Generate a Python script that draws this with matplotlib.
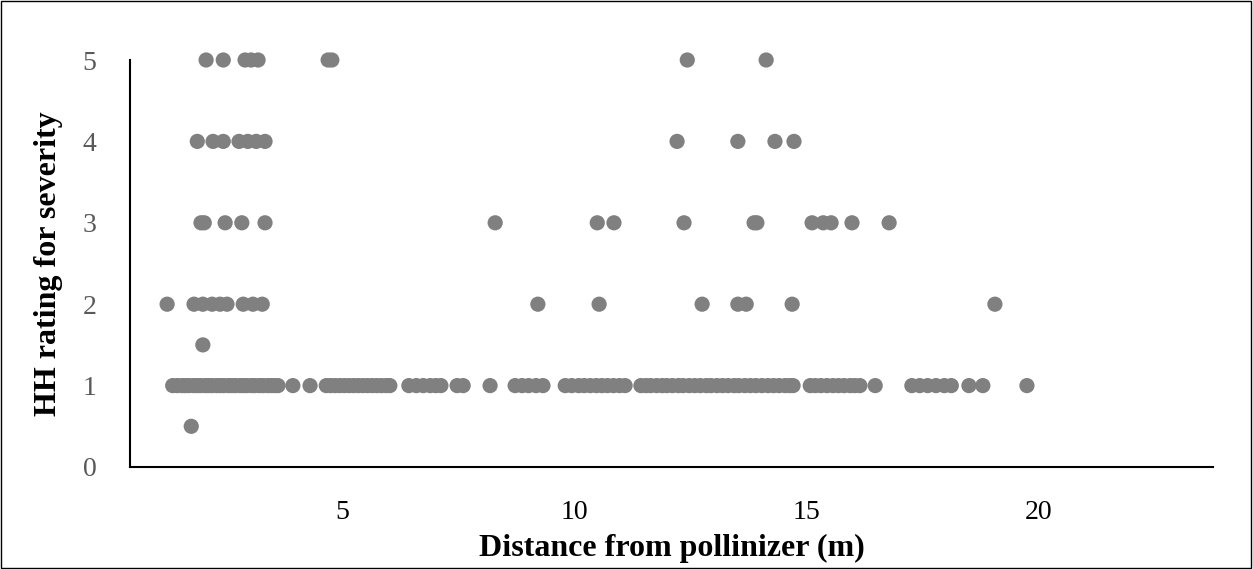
import matplotlib
matplotlib.use("Agg")
import matplotlib.pyplot as plt
from matplotlib.patches import Rectangle

# leituras do grafico: distancia (m) por nivel de severidade
dist_5 = [2.07, 2.44, 2.91, 3.04, 3.19, 4.70, 4.78, 12.44, 14.14]
dist_4 = [1.88, 2.22, 2.44, 2.78, 2.97, 3.15, 3.34, 12.22, 13.53, 14.33, 14.74]
dist_3 = [1.96, 2.03, 2.48, 2.84, 3.34, 8.30, 10.50, 10.86, 12.37, 13.88, 13.94,
          15.13, 15.37, 15.54, 15.99, 16.79]
dist_2 = [1.23, 1.81, 2.00, 2.20, 2.37, 2.52, 2.87, 3.08, 3.28, 9.22, 10.54,
          12.76, 13.53, 13.71, 14.70, 19.07]
dist_15 = [2.00]
dist_05 = [1.75]
dist_1 = [1.35, 1.45, 1.55, 1.62, 1.70, 1.80, 1.88, 1.95, 2.05, 2.12, 2.20, 2.30,
          2.38, 2.45, 2.55, 2.62, 2.70, 2.80, 2.88, 2.95, 3.05, 3.12, 3.22, 3.30,
          3.40, 3.48, 3.55, 3.62, 3.94, 4.31,
          4.66, 4.75, 4.85, 4.95, 5.05, 5.15, 5.25, 5.35, 5.45, 5.55, 5.65, 5.75,
          5.85, 5.95, 6.03, 6.44, 6.60, 6.75, 6.90, 7.02, 7.13, 7.48, 7.61, 8.19,
          8.73, 8.88, 9.02, 9.18, 9.33,
          9.81, 9.95, 10.10, 10.22, 10.35, 10.48, 10.60, 10.72, 10.85, 10.98, 11.10,
          11.44, 11.55, 11.65, 11.78, 11.90, 12.00, 12.12, 12.25, 12.35, 12.48,
          12.60, 12.72, 12.85, 12.95, 13.08, 13.20, 13.32, 13.45, 13.55, 13.68,
          13.80, 13.92, 14.05, 14.18, 14.30, 14.42, 14.55, 14.65, 14.72,
          15.09, 15.20, 15.32, 15.45, 15.58, 15.70, 15.82, 15.95, 16.05, 16.16,
          16.49, 17.28, 17.45, 17.62, 17.80, 17.98, 18.13, 18.51, 18.81, 19.76]

grupos = [(dist_5, 5), (dist_4, 4), (dist_3, 3), (dist_2, 2), (dist_15, 1.5),
          (dist_1, 1), (dist_05, 0.5)]
x_ticks = [5, 10, 15, 20]
y_ticks = [0, 1, 2, 3, 4, 5]

plt.rcParams['font.family'] = ['Liberation Serif', 'DejaVu Serif']

fig = plt.figure(figsize=(12.53, 5.69), dpi=100)
ax = fig.add_axes([130 / 1253, 1 - 467 / 569, 1083 / 1253, 407 / 569])

for xs, nivel in grupos:
    ax.scatter(xs, [nivel] * len(xs), s=120, color='#808080', edgecolors='none',
               clip_on=False, zorder=3)

ax.set_xlim(0.43, 23.77)
ax.set_ylim(0, 5)
ax.set_xticks(x_ticks)
ax.set_yticks(y_ticks)
ax.tick_params(axis='x', length=0, pad=24, labelsize=20, labelcolor='black')
ax.tick_params(axis='y', length=0, pad=24, labelsize=20, labelcolor='#595959')

for lado in ['top', 'right']:
    ax.spines[lado].set_visible(False)
for lado in ['left', 'bottom']:
    ax.spines[lado].set_linewidth(1.5)
    ax.spines[lado].set_color('black')

ax.set_xlabel("Distance from pollinizer (m)", fontsize=23, fontweight='bold', labelpad=6)
ax.set_ylabel("HH rating for severity", fontsize=23, fontweight='bold', labelpad=14)

fig.patches.append(Rectangle((0.0005, 0.002), 0.998, 0.996, transform=fig.transFigure,
                             fill=False, edgecolor='black', linewidth=1))

fig.savefig("out.png", dpi=100)
